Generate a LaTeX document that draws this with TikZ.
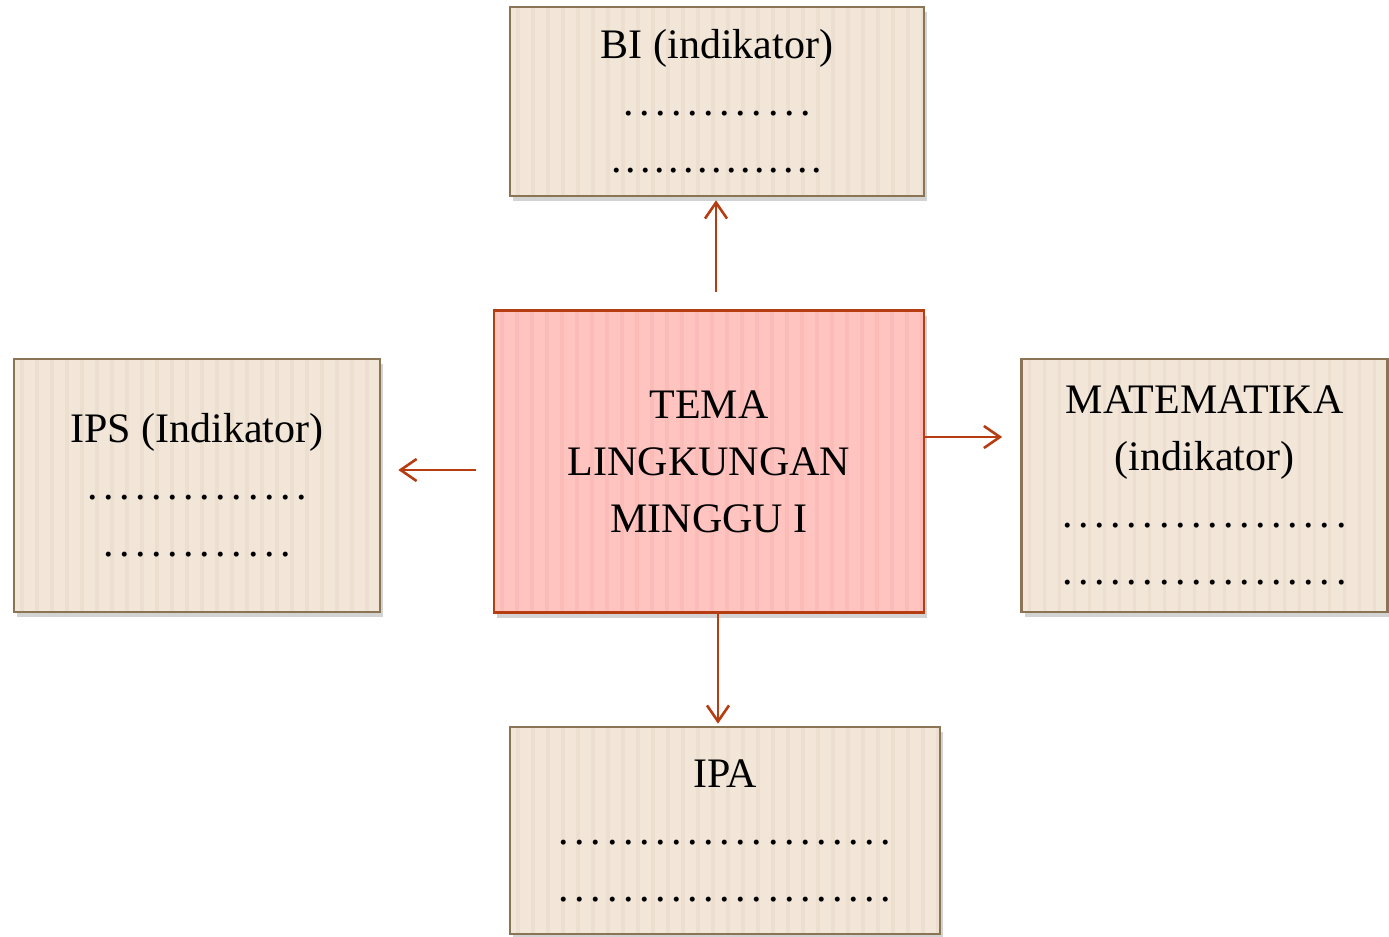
\documentclass[tikz,border=0pt]{standalone}
\usepackage{fontspec}
\setmainfont{Liberation Serif}
\usepackage{xcolor}
\usetikzlibrary{arrows.meta,positioning,calc,shadows}
\definecolor{panahmerah}{RGB}{182,60,18}
\definecolor{temafill}{RGB}{255,196,192}
\definecolor{temagaris}{RGB}{251,188,184}
\definecolor{kotakfill}{RGB}{242,230,216}
\definecolor{kotakgaris}{RGB}{236,223,207}
\definecolor{kotakline}{RGB}{138,116,84}
\newcommand{\titik}[2][2.8pt]{.\foreach \i in {2,...,#2}{\kern#1.}}
\tikzset{
  kotak/.style={draw=kotakline, line width=1.3pt, fill=kotakfill,
    align=center, inner sep=0pt, font=\fontsize{21}{28.5}\selectfont,
    drop shadow={shadow xshift=1.5pt, shadow yshift=-2.5pt, opacity=0.35},
    path picture={\foreach \s in {4,11.5,...,230}
      \draw[draw=#1, line width=1.6pt]
        ([xshift=\s pt]path picture bounding box.north west) --
        ([xshift=\s pt]path picture bounding box.south west);}},
  kotak/.default=kotakgaris,
  temabox/.style={kotak=temagaris, draw=panahmerah, fill=temafill},
  panah/.style={-{Straight Barb[length=8pt,width=11pt]}, line width=1.3pt,
    draw=panahmerah}
}

\begin{document}
\begin{tikzpicture}[x=0.5pt, y=-0.5pt]
  \useasboundingbox (0,0) rectangle (1389,937);

  % tema di tengah
  \node[temabox, minimum width=215pt, minimum height=151pt] (tema) at (709,461.5)
    {TEMA\\LINGKUNGAN\\MINGGU I};

  % mata pelajaran
  \node[kotak, minimum width=207pt, minimum height=94.5pt] (bi) at (717,101.5)
    {BI (indikator)\\\titik{12}\\\titik[1.9pt]{15}};
  \node[kotak, minimum width=183pt, minimum height=126.5pt] (ips) at (197,485.5)
    {IPS (Indikator)\\\titik{14}\\\titik{12}};
  \node[kotak, minimum width=183pt, minimum height=126.5pt] (mat) at (1204.5,485.5)
    {MATEMATIKA\\(indikator)\\\titik{18}\\\titik{18}};
  \node[kotak, minimum width=215pt, minimum height=103.5pt] (ipa) at (725,830.5)
    {IPA\\\titik{21}\\\titik{21}};

  % panah
  \draw[panah] ([shift={(7,-17)}]tema.north) -- ([shift={(-1,3)}]bi.south);
  \draw[panah] ([shift={(-17,8.5)}]tema.west) -- ([shift={(17,-15.5)}]ips.east);
  \draw[panah] ([shift={(0,-24.5)}]tema.east) -- ([shift={(-18,-48.5)}]mat.west);
  \draw[panah] ([shift={(9,0)}]tema.south) -- ([shift={(-7,-2)}]ipa.north);
\end{tikzpicture}
\end{document}
